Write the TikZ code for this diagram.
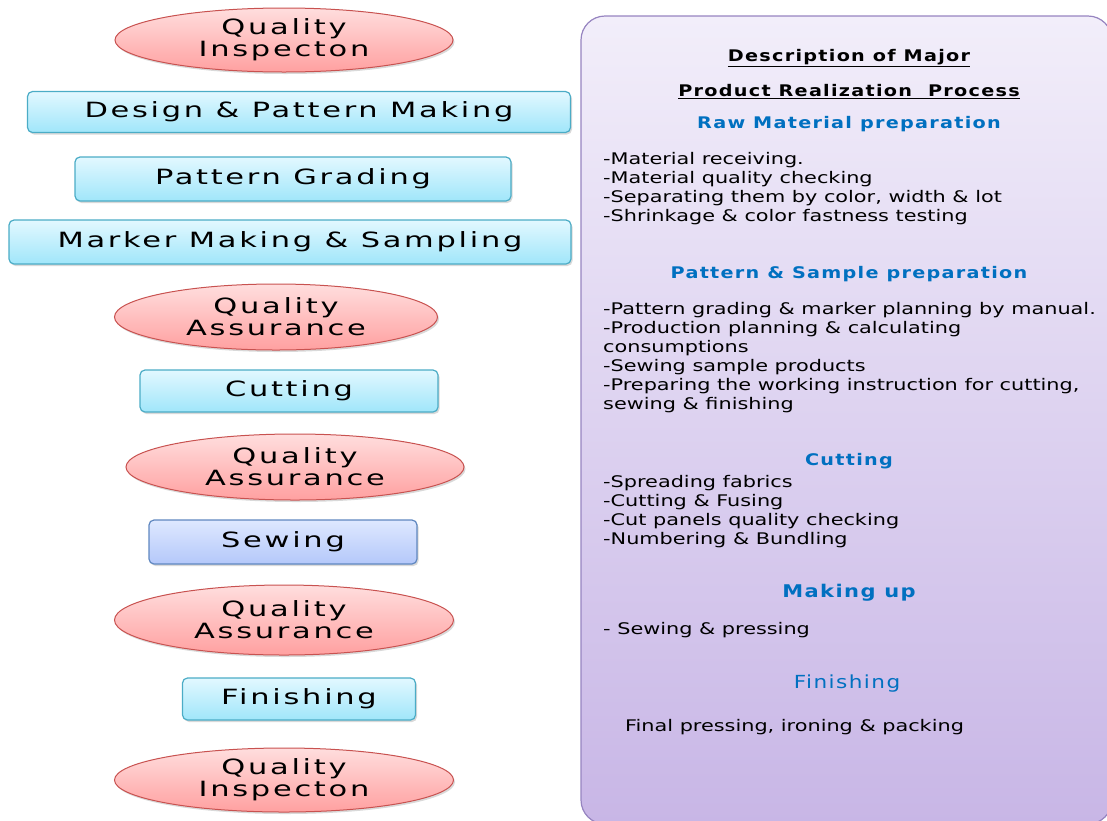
\documentclass[tikz,border=0pt]{standalone}
\usepackage{fontspec}
\setmainfont{DejaVu Sans}
\newfontfamily\boxfont{DejaVu Sans}[FakeStretch=1.45,LetterSpace=13]
\newfontfamily\listfont{DejaVu Sans}[FakeStretch=1.3]
\newfontfamily\headfont{DejaVu Sans}[FakeStretch=1.2,LetterSpace=8]
\usetikzlibrary{shapes.geometric,shadows}

\definecolor{qaline}{RGB}{200,82,80}
\definecolor{qatop}{RGB}{255,222,222}
\definecolor{qabot}{RGB}{255,160,160}
\definecolor{stline}{RGB}{75,172,198}
\definecolor{sttop}{RGB}{226,248,255}
\definecolor{stbot}{RGB}{160,230,250}
\definecolor{swline}{RGB}{95,135,192}
\definecolor{swtop}{RGB}{222,232,255}
\definecolor{swbot}{RGB}{180,200,250}
\definecolor{pnline}{RGB}{150,132,192}
\definecolor{pntop}{RGB}{242,238,250}
\definecolor{pnbot}{RGB}{200,182,230}
\definecolor{headblue}{RGB}{0,112,192}

\begin{document}
\begin{tikzpicture}[x=1pt, y=-1pt,
    shade/.style={drop shadow={shadow xshift=1.5pt, shadow yshift=-2pt, opacity=.3}},
    quality/.style={ellipse, draw=qaline, line width=1pt, top color=qatop, bottom color=qabot,
        shade, inner sep=0pt, align=center, font=\boxfont\fontsize{21}{22}\selectfont},
    stage/.style={rectangle, rounded corners=5pt, draw=stline, line width=1.2pt,
        top color=sttop, bottom color=stbot, shade, inner sep=0pt,
        font=\boxfont\fontsize{21}{23}\selectfont},
    heading/.style={font=\headfont\bfseries\fontsize{16}{18}\selectfont, text=headblue},
    title/.style={font=\headfont\bfseries\fontsize{16}{18}\selectfont},
    items/.style={anchor=north west, inner sep=0pt, align=left,
        font=\listfont\fontsize{16}{19}\selectfont}]
\useasboundingbox (0,0) rectangle (1107,820);

% process column
\node[quality, minimum width=338, minimum height=64] (qi1) at (284,40) {Quality\\Inspecton};
\node[stage, minimum width=543, minimum height=41] (design) at (299,112) {Design \& Pattern Making};
\node[stage, minimum width=436, minimum height=44] (grading) at (293,179) {Pattern Grading};
\node[stage, minimum width=562, minimum height=44] (marker) at (290,242) {Marker Making \& Sampling};
\node[quality, minimum width=323, minimum height=66] (qa1) at (276,317) {Quality\\Assurance};
\node[stage, minimum width=298, minimum height=42] (cut) at (289,391) {Cutting};
\node[quality, minimum width=338, minimum height=66] (qa2) at (295,467) {Quality\\Assurance};
\node[stage, draw=swline, top color=swtop, bottom color=swbot,
      minimum width=268, minimum height=44] (sew) at (283,542) {Sewing};
\node[quality, minimum width=339, minimum height=70] (qa3) at (284,620) {Quality\\Assurance};
\node[stage, minimum width=233, minimum height=42] (fin) at (299,699) {Finishing};
\node[quality, minimum width=339, minimum height=64] (qi2) at (284,780) {Quality\\Inspecton};

% description panel
\draw[draw=pnline, line width=1.2pt, top color=pntop, bottom color=pnbot, rounded corners=24pt]
    (581,16) rectangle (1112,824);
\node[title] (tmajor) at (849,58) {\underline{Description of Major}};
\node[title] (tprocess) at (849,92) {\underline{Product Realization\ \ Process}};

\node[heading] (hraw) at (849,124) {Raw Material preparation};
\node[items] (raw) at (603,152) {-Material receiving.\\-Material quality checking\\
    -Separating them by color, width \& lot\\-Shrinkage \& color fastness testing};

\node[heading] (hpattern) at (849,274) {Pattern \& Sample preparation};
\node[items] (pattern) at (603,302) {-Pattern grading \& marker planning by manual.\\
    -Production planning \& calculating\\consumptions\\-Sewing sample products\\
    -Preparing the working instruction for cutting,\\sewing \& finishing};

\node[heading] (hcut) at (849,461) {Cutting};
\node[items] (cutting) at (603,475) {-Spreading fabrics\\-Cutting \& Fusing\\
    -Cut panels quality checking\\-Numbering \& Bundling};

\node[heading, font=\headfont\bfseries\fontsize{17.5}{20}\selectfont] (hmake) at (849,593) {Making up};
\node[items] (making) at (603,622) {- Sewing \& pressing};

\node[heading, font=\headfont\fontsize{18}{20}\selectfont] (hfin) at (847,684) {Finishing};
\node[items] (finishing) at (625,719) {Final pressing, ironing \& packing};
\end{tikzpicture}
\end{document}
